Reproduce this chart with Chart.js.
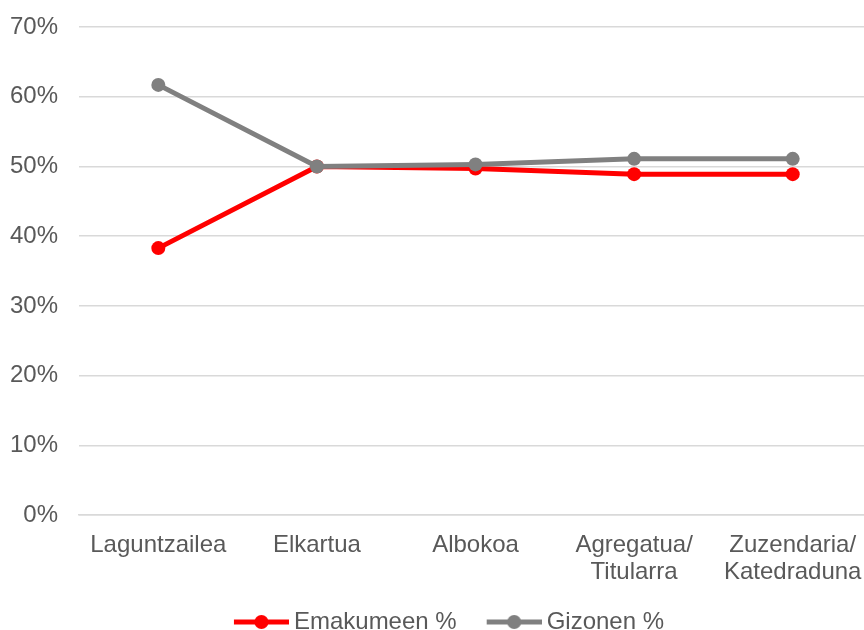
<!DOCTYPE html>
<html>
<head>
<meta charset="utf-8">
<script src="https://cdn.jsdelivr.net/npm/chart.js@4/dist/chart.umd.min.js"></script>
<style>
  html, body { margin: 0; padding: 0; background: #fff; overflow: hidden; }
  #wrap { position: relative; width: 879px; height: 630px; }
</style>
</head>
<body>
<div id="wrap"><canvas id="myChart"></canvas></div>
<script>
const categories = ['Laguntzailea', 'Elkartua', 'Albokoa', ['Agregatua/', 'Titularra'], ['Zuzendaria/', 'Katedraduna']];
const emakumeak = [38.3, 50.0, 49.7, 48.9, 48.9];
const gizonak = [61.7, 50.0, 50.3, 51.1, 51.1];
const yTicks = [0, 10, 20, 30, 40, 50, 60, 70];

const RED = '#ff0000';
const GREY = '#808080';
const TEXT = '#595959';
const FONT = "'Liberation Sans', Arial, sans-serif";

// legend marker: line with a dot, drawn at the right end of a wider transparent image
const MARK_W = 68;
const MARK_IMG = 82;
function legendMarker(color) {
    const c = document.createElement('canvas');
    c.width = MARK_IMG; c.height = 18;
    const g = c.getContext('2d');
    const x0 = MARK_IMG - 55, x1 = MARK_IMG;
    g.strokeStyle = color;
    g.lineWidth = 5;
    g.beginPath();
    g.moveTo(x0, 9);
    g.lineTo(x1, 9);
    g.stroke();
    g.fillStyle = color;
    g.beginPath();
    g.arc((x0 + x1) / 2, 9, 7, 0, Math.PI * 2);
    g.fill();
    return c;
}

const ctx = document.getElementById('myChart').getContext('2d');
const myChart = new Chart(ctx, {
    type: 'line',
    data: {
        labels: categories,
        datasets: [{
            label: 'Emakumeen %',
            data: emakumeak,
            borderColor: RED,
            backgroundColor: RED,
            pointBackgroundColor: RED,
            order: 1,
            marker: legendMarker(RED)
        }, {
            label: 'Gizonen %',
            data: gizonak,
            borderColor: GREY,
            backgroundColor: GREY,
            pointBackgroundColor: GREY,
            order: 0,
            marker: legendMarker(GREY)
        }]
    },
    options: {
        responsive: true,
        maintainAspectRatio: false,
        animation: false,
        layout: { padding: { top: 0, left: -11, right: -10, bottom: -14 } },
        elements: {
            line: { borderWidth: 5, tension: 0 },
            point: { radius: 7, borderWidth: 0, hoverRadius: 7 }
        },
        scales: {
            x: {
                offset: true,
                grid: { display: false },
                border: { display: true, color: '#d9d9d9', width: 1.5 },
                ticks: { color: TEXT, font: { family: FONT, size: 24, lineHeight: 1.12 }, padding: 9, maxRotation: 0, autoSkip: false },
                afterFit: (axis) => { axis.height += 5; }
            },
            y: {
                min: 0,
                max: 70,
                afterBuildTicks: (axis) => { axis.ticks = yTicks.map(v => ({ value: v })); },
                grid: { color: '#d9d9d9', lineWidth: 1.5, drawTicks: false },
                border: { display: false },
                ticks: { color: TEXT, font: { family: FONT, size: 24, lineHeight: 0.5 }, padding: 21, callback: v => v + '%' }
            }
        },
        plugins: {
            legend: {
                position: 'bottom',
                labels: {
                    color: TEXT,
                    font: { family: FONT, size: 24 },
                    usePointStyle: true,
                    pointStyleWidth: MARK_W,
                    padding: 10,
                    generateLabels: (chart) => chart.data.datasets.map((ds, i) => ({
                        text: ds.label,
                        fontColor: TEXT,
                        pointStyle: ds.marker,
                        datasetIndex: i,
                        hidden: false,
                        lineWidth: 0
                    }))
                }
            },
            tooltip: { enabled: false }
        }
    }
});
</script>
</body>
</html>
